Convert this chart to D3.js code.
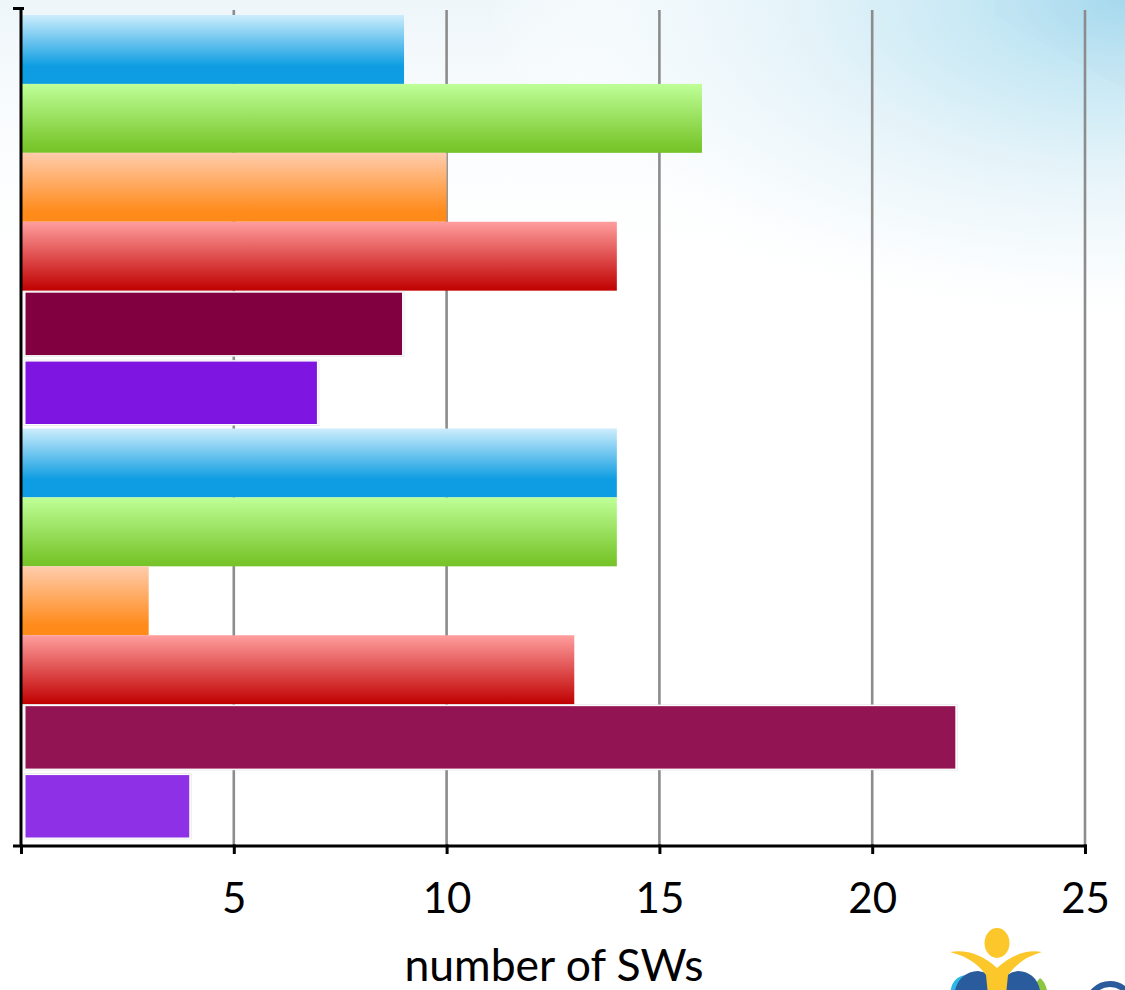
<!DOCTYPE html>
<html>
<head>
<meta charset="utf-8">
<script src="https://cdn.jsdelivr.net/npm/d3@7"></script>
<style>
html,body{margin:0;padding:0;background:#fff;}
svg{display:block;}
</style>
</head>
<body>
<svg id="chart" width="1125" height="990"></svg>
<script>
// ---- data ----
const barIds = ["g1-s1","g1-s2","g1-s3","g1-s4","g1-s5","g1-s6","g2-s1","g2-s2","g2-s3","g2-s4","g2-s5","g2-s6"];
const values = [9, 16, 10, 14, 9, 7, 14, 14, 3, 13, 22, 4];
const xTickValues = [0, 5, 10, 15, 20, 25];
const xTickLabels = ["", "5", "10", "15", "20", "25"];
const xTitle = "number of SWs";

// ---- styles (not data) ----
const styleKeys = ["blue","green","orange","red","maroon","purple","blue","green","orange","red","maroon2","purple2"];
const gradients = {
  blue:   [[0,"#CDEDFC"],[0.74,"#0E9DE2"],[1,"#0E9DE2"]],
  green:  [[0,"#BFFF98"],[0.9,"#7AC72E"],[1,"#76C22A"]],
  orange: [[0,"#FFCCAC"],[0.85,"#FF8B1C"],[1,"#FF8A18"]],
  red:    [[0,"#FF9E9E"],[1,"#C00000"]]
};
const solids = { maroon:"#800040", purple:"#7F15E0", maroon2:"#921452", purple2:"#8E31E6" };

const svg = d3.select("#chart");
const defs = svg.append("defs");

// background
const bg = defs.append("radialGradient").attr("id","bgRad")
  .attr("gradientUnits","userSpaceOnUse").attr("cx",1125).attr("cy",0).attr("r",640)
  .attr("gradientTransform","translate(1125,0) scale(1,0.52) translate(-1125,0)");
[[0,"#A4DBEF",1],[0.2,"#C3E7F4",1],[0.5,"#E4F3F9",1],[0.8,"#F6FBFD",0.8],[1,"#FFFFFF",0]]
  .forEach(s=>bg.append("stop").attr("offset",s[0]).attr("stop-color",s[1]).attr("stop-opacity",s[2]));
const bgLin = defs.append("linearGradient").attr("id","bgLin").attr("x1",0).attr("y1",0).attr("x2",0).attr("y2",1);
bgLin.append("stop").attr("offset",0).attr("stop-color","#EEF6FA").attr("stop-opacity",1);
bgLin.append("stop").attr("offset",1).attr("stop-color","#FFFFFF").attr("stop-opacity",0);

svg.append("rect").attr("width",1125).attr("height",990).attr("fill","#fff");
svg.append("rect").attr("width",1125).attr("height",300).attr("fill","url(#bgLin)");
svg.append("rect").attr("width",1125).attr("height",990).attr("fill","url(#bgRad)");
svg.append("path").attr("d","M995,15 L1125,90 L1125,0 L995,0 Z").attr("fill","rgba(190,200,225,0.08)");

// gradients for bars
Object.entries(gradients).forEach(([k,stops])=>{
  const g = defs.append("linearGradient").attr("id","grad-"+k).attr("x1",0).attr("y1",0).attr("x2",0).attr("y2",1);
  stops.forEach(s=>g.append("stop").attr("offset",s[0]).attr("stop-color",s[1]));
});

// scales
const x = d3.scaleLinear().domain([0,25]).range([21,1085]);
const y = d3.scaleBand().domain(barIds).range([15,842]).paddingInner(0).paddingOuter(0);
const axisY = 846;

// gridlines
svg.append("g").selectAll("line").data(xTickValues.filter(d=>d>0)).join("line")
  .attr("x1",d=>x(d)).attr("x2",d=>x(d)).attr("y1",10).attr("y2",axisY)
  .attr("stroke","#8C8C8C").attr("stroke-width",2.6);

// bars
const data = barIds.map((id,i)=>({id, v:values[i], key:styleKeys[i]}));
const barsG = svg.append("g");
data.forEach(d=>{
  if (gradients[d.key]) {
    barsG.append("rect")
      .attr("x",x(0)).attr("y",y(d.id))
      .attr("width",x(d.v)-x(0)).attr("height",y.bandwidth())
      .attr("fill","url(#grad-"+d.key+")");
  } else {
    barsG.append("rect")
      .attr("x",x(0)+3).attr("y",y(d.id)+0.5)
      .attr("width",x(d.v)-x(0)-3).attr("height",y.bandwidth()-3.5)
      .attr("fill","#fff").attr("stroke","rgba(200,200,210,0.35)").attr("stroke-width",1);
    barsG.append("rect")
      .attr("x",x(0)+4.5).attr("y",y(d.id)+2)
      .attr("width",x(d.v)-x(0)-6.5).attr("height",y.bandwidth()-6.5)
      .attr("fill",solids[d.key]);
  }
});

// x axis
const xAxis = d3.axisBottom(x).tickValues(xTickValues).tickSize(8).tickSizeOuter(0)
  .tickFormat((d,i)=>xTickLabels[i]);
const gx = svg.append("g").attr("transform",`translate(0,${axisY})`).call(xAxis);
gx.select(".domain").remove();
gx.selectAll(".tick line").attr("stroke","#000").attr("stroke-width",3).attr("y1",-1.5);
gx.selectAll(".tick text").attr("y",67).attr("dy",0)
  .attr("font-family","Lato, 'Open Sans', sans-serif").attr("font-size",42).attr("fill","#000");

// axis lines
svg.append("line").attr("x1",13).attr("x2",x(25)+1.5).attr("y1",axisY).attr("y2",axisY)
  .attr("stroke","#000").attr("stroke-width",3);
svg.append("line").attr("x1",x(0)).attr("x2",x(0)).attr("y1",7).attr("y2",axisY)
  .attr("stroke","#000").attr("stroke-width",3);
svg.append("line").attr("x1",13).attr("x2",24).attr("y1",8.5).attr("y2",8.5)
  .attr("stroke","#000").attr("stroke-width",3);

// title
svg.append("text").attr("x",554).attr("y",981).attr("text-anchor","middle")
  .attr("font-family","Lato, 'Open Sans', sans-serif").attr("font-size",44.5).attr("fill","#000")
  .text(xTitle);

// decorative logo (partially visible, bottom-right)
const logo = svg.append("g");
logo.append("path").attr("d","M948,1000 L952,985 Q956,976 966,975 L985,990 Z").attr("fill","#29B8E8");
logo.append("path").attr("d","M1030,990 L1040,978 Q1046,982 1048,995 Z").attr("fill","#8CC63F");
logo.append("path").attr("d","M955,990 Q960,972 978,971 Q990,972 998,985 Q1006,972 1018,971 Q1036,972 1040,990 Z").attr("fill","#2A5B9C");
logo.append("path").attr("d","M950,952 Q975,948 997,968 Q1019,948 1042,952 Q1020,958 1008,975 L1006,995 L988,995 L986,975 Q974,958 950,952 Z").attr("fill","#FCC72A");
logo.append("ellipse").attr("cx",997).attr("cy",943).attr("rx",12.5).attr("ry",15).attr("fill","#FCC72A");
logo.append("circle").attr("cx",1110).attr("cy",1006).attr("r",22).attr("fill","none").attr("stroke","#2A5B9C").attr("stroke-width",6);
</script>
</body>
</html>
